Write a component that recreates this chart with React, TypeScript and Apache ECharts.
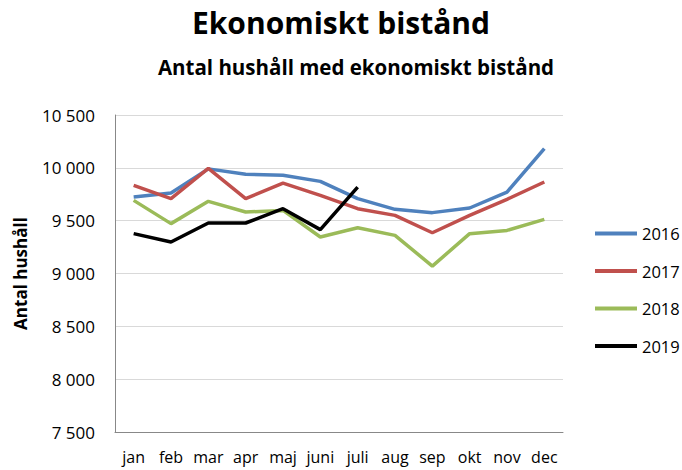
import React, { useEffect, useRef } from "react";
import * as echarts from "echarts";

const months = ["jan", "feb", "mar", "apr", "maj", "juni", "juli", "aug", "sep", "okt", "nov", "dec"];
const s2016 = [9724, 9761, 9990, 9939, 9929, 9872, 9708, 9607, 9576, 9620, 9771, 10182];
const s2017 = [9834, 9708, 9995, 9708, 9856, 9740, 9613, 9550, 9386, 9550, 9702, 9866];
const s2018 = [9692, 9472, 9683, 9582, 9597, 9345, 9433, 9361, 9070, 9377, 9408, 9512];
const s2019 = [9377, 9298, 9478, 9478, 9613, 9415, 9818];
const seriesNames = ["2016", "2017", "2018", "2019"];
const colors = ["#4F81BD", "#C0504D", "#9BBB59", "#000000"];

const FONT = "'Open Sans', 'Noto Sans', sans-serif";

export default function App() {
  const ref = useRef<HTMLDivElement>(null);
  useEffect(() => {
    if (!ref.current) return;
    const chart = echarts.init(ref.current, undefined, { renderer: "svg" });
    const data = [s2016, s2017, s2018, s2019];
    chart.setOption({
      animation: false,
      textStyle: { fontFamily: FONT },
      title: [
        {
          text: "Ekonomiskt bistånd",
          left: 336,
          top: 2,
          textAlign: "center",
          textStyle: { fontSize: 30, fontWeight: "bold", color: "#000", fontFamily: FONT },
        },
        {
          text: "Antal hushåll med ekonomiskt bistånd",
          left: 351,
          top: 51,
          textAlign: "center",
          textStyle: { fontSize: 20.5, fontWeight: "bold", color: "#000", fontFamily: FONT },
        },
      ],
      legend: {
        orient: "vertical",
        left: 590,
        top: 218,
        icon: "rect",
        itemWidth: 42,
        itemHeight: 4,
        itemGap: 16.5,
        data: seriesNames,
        textStyle: { fontSize: 16.5, lineHeight: 21, color: "#000", fontFamily: FONT },
      },
      grid: { left: 115, right: 119, top: 115, bottom: 38, containLabel: false },
      xAxis: {
        type: "category",
        data: months,
        boundaryGap: true,
        axisLine: { lineStyle: { color: "#888", width: 1 } },
        axisTick: { show: false },
        axisLabel: { color: "#000", fontSize: 16, margin: 17, interval: 0, fontFamily: FONT },
      },
      yAxis: {
        type: "value",
        min: 7500,
        max: 10500,
        interval: 500,
        name: "Antal hushåll",
        nameLocation: "middle",
        nameGap: 86,
        nameTextStyle: { fontSize: 17, fontWeight: "bold", color: "#000", fontFamily: FONT },
        axisLine: { show: true, lineStyle: { color: "#888", width: 1 } },
        axisTick: { show: false },
        splitLine: { lineStyle: { color: "#d9d9d9", width: 1 } },
        axisLabel: {
          color: "#000",
          fontSize: 17,
          margin: 20,
          fontFamily: FONT,
          formatter: (v: number) => {
            const s = String(v);
            return s.length > 3 ? s.slice(0, s.length - 3) + " " + s.slice(-3) : s;
          },
        },
      },
      series: seriesNames.map((name, i) => ({
        name,
        type: "line",
        data: data[i],
        symbol: "none",
        lineStyle: { color: colors[i], width: 3.5 },
        itemStyle: { color: colors[i] },
      })),
    });
    return () => chart.dispose();
  }, []);
  return <div ref={ref} style={{ width: 682, height: 470, position: "absolute", left: 0, top: 0 }} />;
}
